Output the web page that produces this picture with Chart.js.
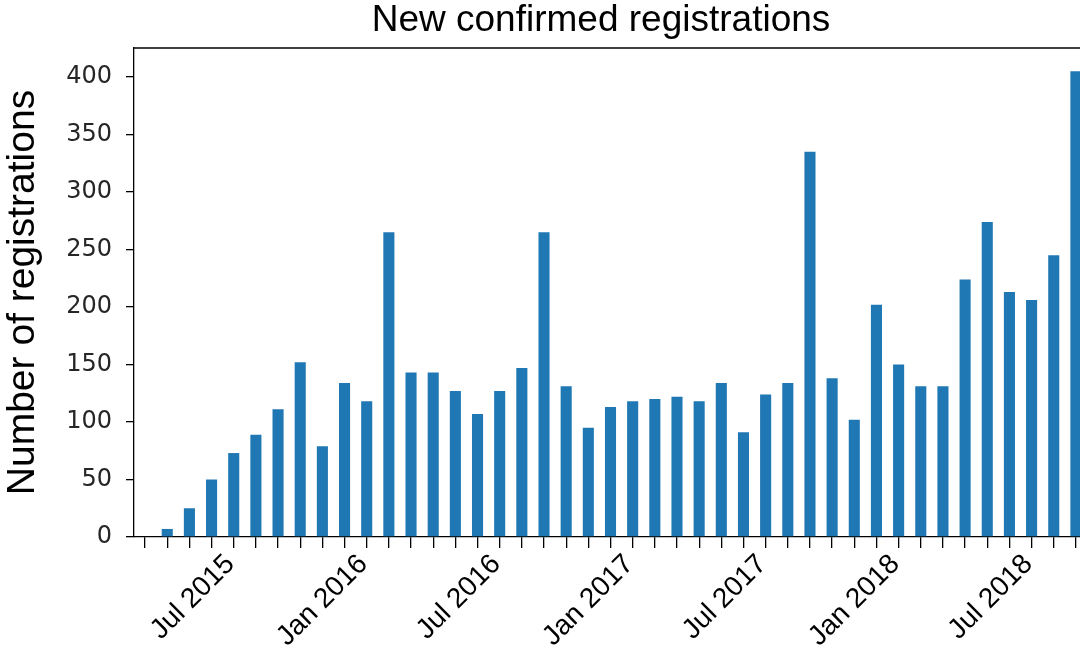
<!DOCTYPE html>
<html>
<head>
<meta charset="utf-8">
<title>New confirmed registrations</title>
<script src="https://cdn.jsdelivr.net/npm/chart.js@4"></script>
<style>
  html, body { margin: 0; padding: 0; overflow: hidden; background: #ffffff; }
  canvas { display: block; }
</style>
</head>
<body>
<canvas id="chart" width="1202" height="649"></canvas>
<script>
// Monthly categories
const months = [
  'May 2015', 'Jun 2015', 'Jul 2015', 'Aug 2015', 'Sep 2015', 'Oct 2015', 'Nov 2015', 'Dec 2015',
  'Jan 2016', 'Feb 2016', 'Mar 2016', 'Apr 2016', 'May 2016', 'Jun 2016', 'Jul 2016', 'Aug 2016',
  'Sep 2016', 'Oct 2016', 'Nov 2016', 'Dec 2016',
  'Jan 2017', 'Feb 2017', 'Mar 2017', 'Apr 2017', 'May 2017', 'Jun 2017', 'Jul 2017', 'Aug 2017',
  'Sep 2017', 'Oct 2017', 'Nov 2017', 'Dec 2017',
  'Jan 2018', 'Feb 2018', 'Mar 2018', 'Apr 2018', 'May 2018', 'Jun 2018', 'Jul 2018', 'Aug 2018',
  'Sep 2018', 'Oct 2018', 'Nov 2018'
];

// New confirmed registrations per month
const registrations = [
  0, 7, 25, 50, 73, 89, 111, 152,
  79, 134, 118, 265, 143, 143, 127, 107,
  127, 147, 265, 131,
  95, 113, 118, 120, 122, 118, 134, 91,
  124, 134, 335, 138,
  102, 202, 150, 131, 131, 224, 274, 213,
  206, 245, 405
];

// Axis ticks
const yTickValues = [0, 50, 100, 150, 200, 250, 300, 350, 400];
const labelledMonths = ['Jan', 'Jul'];

const barColor = '#1f77b4';

// Closes the frame along the top of the plot area
const topSpine = {
  id: 'topSpine',
  afterDraw(chart) {
    const { ctx, chartArea: a } = chart;
    ctx.save();
    ctx.strokeStyle = '#000000';
    ctx.lineWidth = 1.3;
    ctx.beginPath();
    ctx.moveTo(a.left, a.top);
    ctx.lineTo(a.right, a.top);
    ctx.stroke();
    ctx.restore();
  }
};

new Chart(document.getElementById('chart'), {
  type: 'bar',
  data: {
    labels: months,
    datasets: [{
      label: 'Registrations',
      data: registrations,
      backgroundColor: barColor,
      borderWidth: 0,
      barPercentage: 0.5,
      categoryPercentage: 1.0
    }]
  },
  plugins: [topSpine],
  options: {
    responsive: false,
    animation: false,
    devicePixelRatio: 1,
    layout: { padding: 0 },
    plugins: {
      legend: { display: false },
      tooltip: { enabled: false },
      title: {
        display: true,
        text: 'New confirmed registrations',
        color: '#000000',
        font: { family: "'Liberation Sans', Arial, sans-serif", size: 37, weight: 'normal', lineHeight: 1.1 },
        padding: { top: 0, bottom: 7.3 }
      }
    },
    scales: {
      x: {
        type: 'category',
        offset: true,
        grid: {
          display: true,
          drawOnChartArea: false,
          drawTicks: true,
          tickLength: 11,
          color: '#000000',
          lineWidth: 1.3,
          offset: false
        },
        border: { display: true, color: '#000000', width: 1.3 },
        ticks: {
          autoSkip: false,
          minRotation: 45,
          maxRotation: 45,
          padding: 0,
          labelOffset: 41,
          color: '#000000',
          font: { family: "'Liberation Sans', Arial, sans-serif", size: 28 },
          callback(value, index) {
            const m = months[index];
            return labelledMonths.includes(m.slice(0, 3)) ? m : '';
          }
        },
        afterFit(scale) { scale.height = 112; }
      },
      y: {
        type: 'linear',
        position: 'left',
        min: 0,
        max: 425.25,
        grid: {
          display: true,
          drawOnChartArea: false,
          drawTicks: true,
          tickLength: 8,
          color: '#000000',
          lineWidth: 1.3
        },
        border: { display: true, color: '#000000', width: 1.3 },
        ticks: {
          padding: 14,
          color: '#262626',
          font: { family: "'DejaVu Sans', sans-serif", size: 24 }
        },
        afterBuildTicks(scale) {
          scale.ticks = yTickValues.map(v => ({ value: v }));
        },
        title: {
          display: true,
          text: 'Number of registrations',
          color: '#000000',
          font: { family: "'Liberation Sans', Arial, sans-serif", size: 39, weight: 'normal', lineHeight: 1.2 },
          padding: { top: 0, bottom: 0 }
        },
        afterFit(scale) { scale.width = 134; }
      },
      // empty right-hand margin of the figure, beyond the visible page
      yRight: {
        type: 'linear',
        position: 'right',
        display: true,
        grid: { display: false },
        border: { display: false },
        ticks: { display: false },
        afterFit(scale) { scale.width = 115; }
      }
    }
  }
});
</script>
</body>
</html>
